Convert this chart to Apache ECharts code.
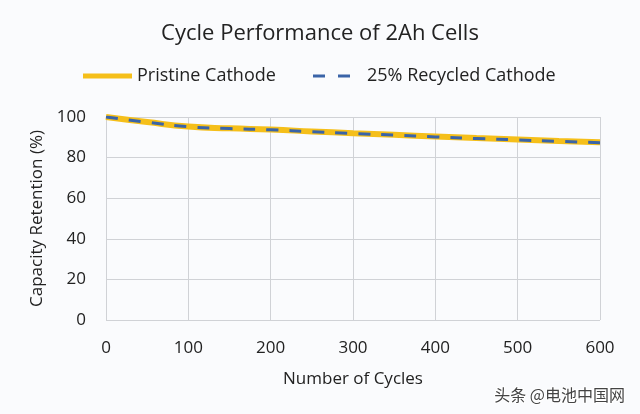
<!DOCTYPE html>
<html><head><meta charset="utf-8">
<script src="https://cdn.jsdelivr.net/npm/echarts@6/dist/echarts.min.js"></script>
<style>html,body{margin:0;padding:0;background:#fafbfd}#c{width:640px;height:414px}</style>
</head><body><div id="c"></div>
<script>
const cycles = [0, 50, 100, 150, 200, 250, 300, 350, 400, 450, 500, 550, 600];
const pristine = [100, 97.5, 95.3, 94.4, 93.8, 92.9, 92.0, 91.2, 90.4, 89.6, 88.9, 88.2, 87.6];
const recycled = [100, 97.4, 95.2, 94.3, 93.7, 92.8, 91.9, 91.1, 90.2, 89.4, 88.7, 88.0, 87.3];
const seriesNames = ['Pristine Cathode', '25% Recycled Cathode'];
const font = '"Open Sans", "Noto Sans", sans-serif';
const yellow = '#f5bf1a', blue = '#3a64a8';
const chart = echarts.init(document.getElementById('c'));
chart.setOption({
  backgroundColor: '#fafbfd',
  animation: false,
  title: { text: 'Cycle Performance of 2Ah Cells', left: 'center', top: 18,
    textStyle: { fontFamily: font, fontSize: 22, fontWeight: 'normal', color: '#222' } },
  grid: { left: 106, right: 40, top: 117, bottom: 94, containLabel: false },
  xAxis: { type: 'value', min: 0, max: 600, interval: 100,
    name: 'Number of Cycles', nameLocation: 'middle', nameGap: 51,
    nameTextStyle: { fontFamily: font, fontSize: 17, color: '#222' },
    axisLabel: { fontFamily: font, fontSize: 17, color: '#222', margin: 20 },
    axisLine: { show: false }, axisTick: { show: false },
    splitLine: { lineStyle: { color: '#d0d2d6', width: 1 } } },
  yAxis: { type: 'value', min: 0, max: 100, interval: 20,
    name: 'Capacity Retention (%)', nameLocation: 'middle', nameGap: 58,
    nameTextStyle: { fontFamily: font, fontSize: 17, color: '#222' },
    axisLabel: { fontFamily: font, fontSize: 17, color: '#222', margin: 20 },
    axisLine: { show: false }, axisTick: { show: false },
    splitLine: { lineStyle: { color: '#d0d2d6', width: 1 } } },
  series: [
    { name: seriesNames[0], type: 'line', smooth: true, symbol: 'none',
      data: cycles.map((c, i) => [c, pristine[i]]),
      lineStyle: { color: yellow, width: 6 }, itemStyle: { color: yellow } },
    { name: seriesNames[1], type: 'line', smooth: true, symbol: 'none',
      data: cycles.map((c, i) => [c, recycled[i]]),
      lineStyle: { color: blue, width: 3, type: [12, 11] }, itemStyle: { color: blue } }
  ],
  graphic: [
    { type: 'line', shape: { x1: 83, y1: 76, x2: 132, y2: 76 },
      style: { stroke: yellow, lineWidth: 5 } },
    { type: 'text', x: 137, y: 76,
      style: { text: seriesNames[0], fontFamily: font, fontSize: 18, fill: '#222', verticalAlign: 'middle' } },
    { type: 'line', shape: { x1: 313, y1: 76, x2: 350, y2: 76 },
      style: { stroke: blue, lineWidth: 3, lineDash: [12, 13] } },
    { type: 'text', x: 367, y: 76,
      style: { text: seriesNames[1], fontFamily: font, fontSize: 18, fill: '#222', verticalAlign: 'middle' } },
    { type: 'text', right: 14, bottom: 10,
      style: { text: '头条 @电池中国网', fontFamily: '"Noto Sans CJK SC", sans-serif', fontSize: 16,
        fill: '#444', stroke: '#ffffff', lineWidth: 2 } }
  ]
});
</script></body></html>
